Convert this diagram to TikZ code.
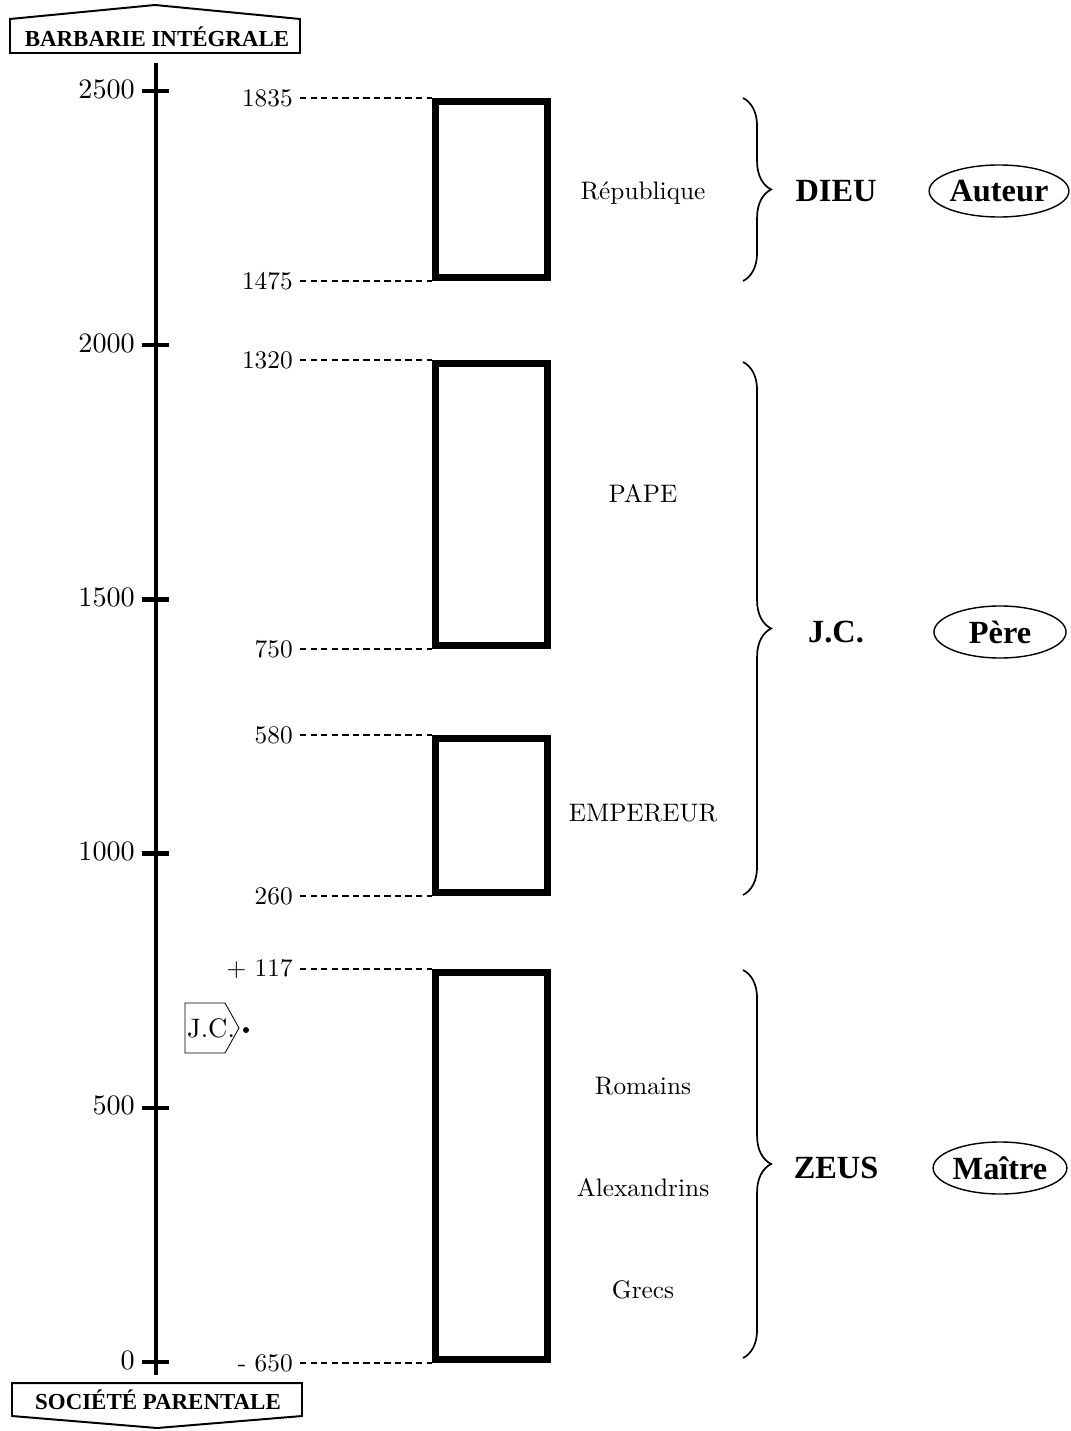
\documentclass[tikz,border=0pt]{standalone}
\usepackage{fontspec}
\usepackage{tikz}
\usetikzlibrary{shapes.geometric,decorations.pathreplacing}
\setmainfont{lmroman10-regular.otf}[BoldFont=lmroman10-bold.otf]
\newfontfamily\grasfont{Liberation Serif}

\begin{document}
\begin{tikzpicture}[x=0.025cm,y=-0.025cm,
  texte/.style={font=\fontsize{18}{20}\selectfont},
  annee/.style={font=\fontsize{18}{20}\selectfont,inner sep=0pt,anchor=east},
  titre/.style={font=\grasfont\bfseries\fontsize{16.3}{18}\selectfont},
  dieu/.style={font=\grasfont\bfseries\fontsize{23}{26}\selectfont},
  nom/.style={dieu,draw,ellipse,line width=1pt,inner sep=0pt,minimum width=3.3cm,minimum height=1.3cm},
  tiret/.style={line width=1pt,dash pattern=on 4.5pt off 3pt},
  boite/.style={line width=5pt},
  accolade/.style={decorate,decoration={brace,amplitude=20pt},line width=1.2pt}]
\useasboundingbox (0,0) rectangle (1070,1431);

\draw[line width=3.5pt] (156,63) -- (156,1375);
\foreach \v in {0,500,...,2500}
  {\draw[line width=3pt] (142,1362-\v*0.5084) -- (169,1362-\v*0.5084);
   \draw (135,1360-\v*0.5084) node[annee,font=\fontsize{20}{22}\selectfont] (ax\v) {\v};}

\draw[line width=1.4pt] (10,53) -- (10,19) -- (155,5) -- (300,19) -- (300,53) -- cycle;
\node[titre] (barbarie) at (157,37) {BARBARIE INTÉGRALE};
\draw[line width=1.4pt] (12,1383) -- (302,1383) -- (302,1416) -- (157,1428) -- (12,1416) -- cycle;
\node[titre] (societe) at (158,1400) {SOCIÉTÉ PARENTALE};

\foreach \n/\t/\y in {a/1835/98,b/1475/281,c/1320/360,d/750/649,e/580/735,f/260/896,g/+ 117/969,h/- 650/1363}
  {\node[annee,inner xsep=5pt] (l\n) at (300,\y) {\t};
   \coordinate (c\n) at (432,\y);
   \draw[tiret] (l\n) -- (c\n);}

\foreach \h/\b in {98/281,360/649,735/896,969/1363}
  \draw[boite] (435.5,\h+3.5) rectangle (547.5,\b-3.5);

\node[texte] (republique) at (643,193) {République};
\node[texte] (pape) at (643,493) {PAPE};
\node[texte] (empereur) at (643,813) {EMPEREUR};
\node[texte] (romains) at (643,1086) {Romains};
\node[texte] (alexandrins) at (643,1188) {Alexandrins};
\node[texte] (grecs) at (643,1290) {Grecs};

\draw[accolade] (743,98) -- (743,281);
\draw[accolade] (743,362) -- (743,895);
\draw[accolade] (743,970) -- (743,1358);

\node[dieu] (dieu) at (836,191) {DIEU};
\node[nom] (auteur) at (999,191) {Auteur};
\node[dieu] (jc) at (836,632) {J.C.};
\node[nom] (pere) at (1000,632) {Père};
\node[dieu] (zeus) at (836,1168) {ZEUS};
\node[nom] (maitre) at (1000,1168) {Maître};

\draw[line width=0.6pt] (185,1003) -- (225,1003) -- (239,1028) -- (225,1053) -- (185,1053) -- cycle;
\node[texte,inner sep=0pt,font=\fontsize{19}{21}\selectfont] (jcpetit) at (211,1028) {J.C.};
\fill (246,1030) circle (3);
\end{tikzpicture}
\end{document}
